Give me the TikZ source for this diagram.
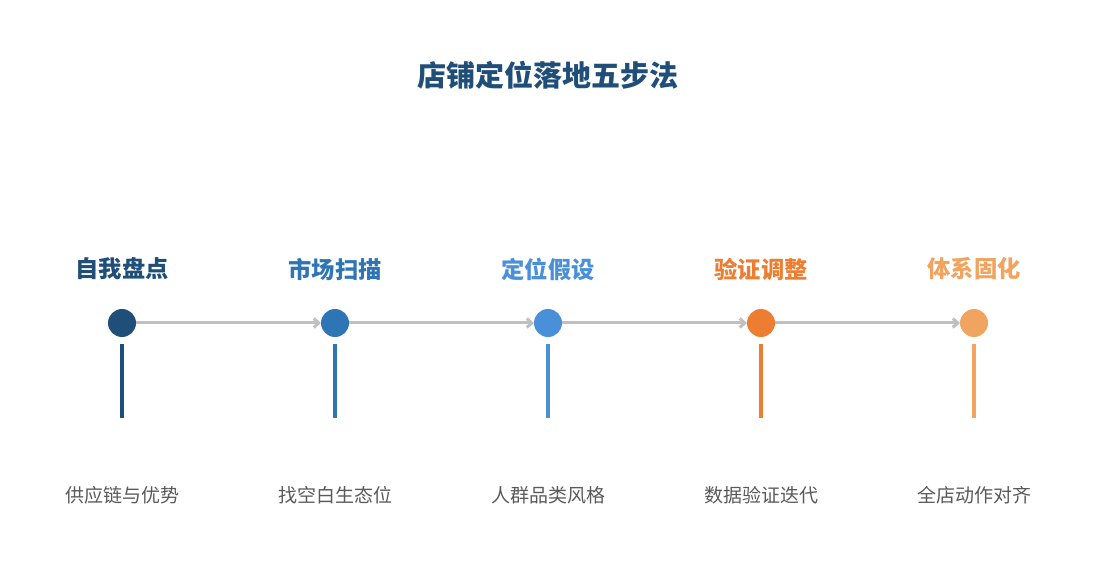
\documentclass[tikz,border=0pt]{standalone}
\usepackage{fontspec}
\setmainfont{Noto Sans CJK SC}
\usepackage{tikz}
\usetikzlibrary{positioning,arrows.meta,calc}

\definecolor{stepA}{HTML}{1F4E79}
\definecolor{stepB}{HTML}{2E75B6}
\definecolor{stepC}{HTML}{4A90D9}
\definecolor{stepD}{HTML}{ED7D31}
\definecolor{stepE}{HTML}{F0A460}
\definecolor{flowgray}{HTML}{C0C0C0}
\definecolor{notegray}{HTML}{595959}

\tikzset{
  dot/.style={circle,fill=#1,minimum size=28pt,inner sep=0pt,outer sep=0pt},
  steptitle/.style={text=#1,font=\fontsize{23.3}{27}\selectfont\bfseries,inner sep=0pt},
  stepnote/.style={text=notegray,font=\fontsize{19}{23}\selectfont,inner sep=0pt},
  flow/.style={draw=flowgray,line width=3pt,-{Straight Barb[length=5pt,width=9pt]}},
  stem/.style={draw=#1,line width=3.3pt}
}

\begin{document}
\begin{tikzpicture}[x=1pt,y=-1pt,node distance=185pt]
    \useasboundingbox (0,0) rectangle (1095,585);

    \node[text=stepA,font=\fontsize{29}{33}\selectfont\bfseries] (title) at (548,75) {店铺定位落地五步法};

    % steps on the line
    \node[dot=stepA] (s1) at (122,323) {};
    \node[dot=stepB] (s2) [right=of s1] {};
    \node[dot=stepC] (s3) [right=of s2] {};
    \node[dot=stepD] (s4) [right=of s3] {};
    \node[dot=stepE] (s5) [right=of s4] {};

    \node[steptitle=stepA] (t1) at ([yshift=54pt]s1) {自我盘点};
    \node[steptitle=stepB] (t2) at ([yshift=54pt]s2) {市场扫描};
    \node[steptitle=stepC] (t3) at ([yshift=54pt]s3) {定位假设};
    \node[steptitle=stepD] (t4) at ([yshift=54pt]s4) {验证调整};
    \node[steptitle=stepE] (t5) at ([yshift=54pt]s5) {体系固化};

    \path[flow] (s1) -- (s2);
    \path[flow] (s2) -- (s3);
    \path[flow] (s3) -- (s4);
    \path[flow] (s4) -- (s5);

    % stems below
    \coordinate (e1) at ([yshift=-95pt]s1);
    \coordinate (e2) at ([yshift=-95pt]s2);
    \coordinate (e3) at ([yshift=-95pt]s3);
    \coordinate (e4) at ([yshift=-95pt]s4);
    \coordinate (e5) at ([yshift=-95pt]s5);
    \path[stem=stepA,shorten <=7pt] (s1.south) -- (e1);
    \path[stem=stepB,shorten <=7pt] (s2.south) -- (e2);
    \path[stem=stepC,shorten <=7pt] (s3.south) -- (e3);
    \path[stem=stepD,shorten <=7pt] (s4.south) -- (e4);
    \path[stem=stepE,shorten <=7pt] (s5.south) -- (e5);

    \node[stepnote] (n1) at ([yshift=-172pt]s1) {供应链与优势};
    \node[stepnote] (n2) at ([yshift=-172pt]s2) {找空白生态位};
    \node[stepnote] (n3) at ([yshift=-172pt]s3) {人群品类风格};
    \node[stepnote] (n4) at ([yshift=-172pt]s4) {数据验证迭代};
    \node[stepnote] (n5) at ([yshift=-172pt]s5) {全店动作对齐};
\end{tikzpicture}
\end{document}
